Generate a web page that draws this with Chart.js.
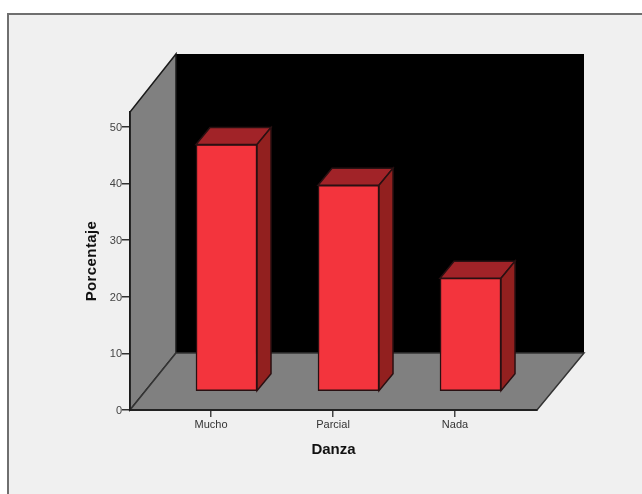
<!DOCTYPE html>
<html>
<head>
<meta charset="utf-8">
<title>Danza</title>
<script src="https://cdn.jsdelivr.net/npm/chart.js@4/dist/chart.umd.min.js"></script>
<style>
  html, body { margin: 0; padding: 0; background: #fff; overflow: hidden; }
  #panel {
    position: absolute; left: 7px; top: 13px; width: 635px; height: 481px;
    box-sizing: border-box; background: #f0f0f0;
    border-left: 2px solid #6f6f6f; border-top: 2px solid #6f6f6f;
  }
  #wrap { position: absolute; left: 0; top: 0; width: 642px; height: 494px; }
</style>
</head>
<body>
<div id="panel"></div>
<div id="wrap"><canvas id="chart"></canvas></div>
<script>
const categories = ["Mucho", "Parcial", "Nada"];
const porcentaje = [43.6, 36.4, 20.0];
const yTicks = [0, 10, 20, 30, 40, 50];

// depth of the box and where the bars sit inside it, in px
const wallDx = 46, wallDy = 57;
const barDx = 15.5, barDy = 18.5;
const faceDx = 14, faceDy = 17;

function poly(ctx, pts, fill, stroke) {
  ctx.beginPath();
  pts.forEach(function (p, i) {
    if (i === 0) ctx.moveTo(p[0], p[1]);
    else ctx.lineTo(p[0], p[1]);
  });
  ctx.closePath();
  ctx.fillStyle = fill;
  ctx.fill();
  if (stroke) {
    ctx.strokeStyle = stroke;
    ctx.lineWidth = 1.5;
    ctx.stroke();
  }
}

const box3d = {
  id: "box3d",
  // walls and floor go under the axes
  beforeDraw(chart) {
    const ctx = chart.ctx, a = chart.chartArea;
    const l = a.left, r = a.right, t = a.top, b = a.bottom;
    ctx.save();
    poly(ctx, [[l + wallDx, t - wallDy - 1], [r + wallDx + 1, t - wallDy - 1], [r + wallDx + 1, b - wallDy], [l + wallDx, b - wallDy]], "#000000");
    poly(ctx, [[l, b], [l + wallDx, b - wallDy], [l + wallDx, t - wallDy - 1], [l, t]], "#808080", "#1a1a1a");
    poly(ctx, [[l, b], [r, b], [r + wallDx + 1, b - wallDy], [l + wallDx, b - wallDy]], "#808080", "#333333");
    ctx.restore();
  },
  beforeDatasetDraw(chart) {
    chart.ctx.save();
    chart.ctx.translate(barDx, -barDy);
  },
  // top and side faces of each bar, still in the shifted position
  afterDatasetDraw(chart, args) {
    const ctx = chart.ctx;
    args.meta.data.forEach(function (bar) {
      const p = bar.getProps(["x", "y", "base", "width"]);
      const x0 = p.x - p.width / 2, x1 = p.x + p.width / 2;
      poly(ctx, [[x0, p.y], [x1, p.y], [x1 + faceDx, p.y - faceDy], [x0 + faceDx, p.y - faceDy]], "#a12328", "#2a1012");
      poly(ctx, [[x1, p.y], [x1 + faceDx, p.y - faceDy], [x1 + faceDx, p.base - faceDy], [x1, p.base]], "#92201f", "#2a1012");
    });
    ctx.restore();
  },
  afterDraw(chart) {
    const ctx = chart.ctx;
    ctx.save();
    ctx.translate(92, 261);
    ctx.rotate(-Math.PI / 2);
    ctx.font = "bold 15px 'Liberation Sans'";
    ctx.letterSpacing = "0.4px";
    ctx.fillStyle = "#111111";
    ctx.textAlign = "center";
    ctx.textBaseline = "middle";
    ctx.fillText("Porcentaje", 0, 0);
    ctx.restore();
  },
};

new Chart(document.getElementById("chart"), {
  type: "bar",
  data: {
    datasets: [
      {
        label: "Porcentaje",
        data: categories.map(function (c, i) {
          return { x: i + 1, y: porcentaje[i] };
        }),
        backgroundColor: "#f3343d",
        borderColor: "#2a1012",
        borderWidth: 1.5,
        borderSkipped: false,
        barThickness: 61,
        clip: false,
      },
    ],
  },
  options: {
    responsive: true,
    maintainAspectRatio: false,
    animation: false,
    layout: { padding: { top: 112, right: 105, bottom: 0, left: 0 } },
    plugins: { legend: { display: false }, tooltip: { enabled: false } },
    scales: {
      x: {
        type: "linear",
        offset: false,
        min: 0.336,
        max: 3.672,
        afterBuildTicks: function (scale) {
          scale.ticks = categories.map(function (c, i) {
            return { value: i + 1 };
          });
        },
        afterFit: function (scale) {
          scale.height = 84;
        },
        grid: { offset: false, drawOnChartArea: false, drawTicks: true, tickLength: 7, lineWidth: 1.5, color: "#444444", tickColor: "#444444" },
        border: { color: "#222222", width: 2 },
        ticks: {
          autoSkip: false,
          maxRotation: 0,
          padding: 1,
          color: "#333333",
          font: { family: "'Liberation Sans'", size: 11 },
          callback: function (v) {
            return categories[v - 1];
          },
        },
        title: {
          display: true,
          text: "Danza",
          color: "#111111",
          font: { family: "'Liberation Sans'", size: 15, weight: "bold" },
          padding: { top: 0, bottom: 35 },
        },
      },
      y: {
        min: 0,
        max: 52.6,
        afterBuildTicks: function (scale) {
          scale.ticks = yTicks.map(function (v) {
            return { value: v };
          });
        },
        afterFit: function (scale) {
          scale.width = 130;
        },
        grid: { drawOnChartArea: false, drawTicks: true, tickLength: 8, lineWidth: 1.5, color: "#333333", tickColor: "#333333" },
        border: { color: "#1a1a1a", width: 1.5 },
        ticks: {
          padding: 0,
          labelOffset: 1,
          color: "#444444",
          font: { family: "'Liberation Sans'", size: 11 },
        },
      },
    },
  },
  plugins: [box3d],
});
</script>
</body>
</html>
